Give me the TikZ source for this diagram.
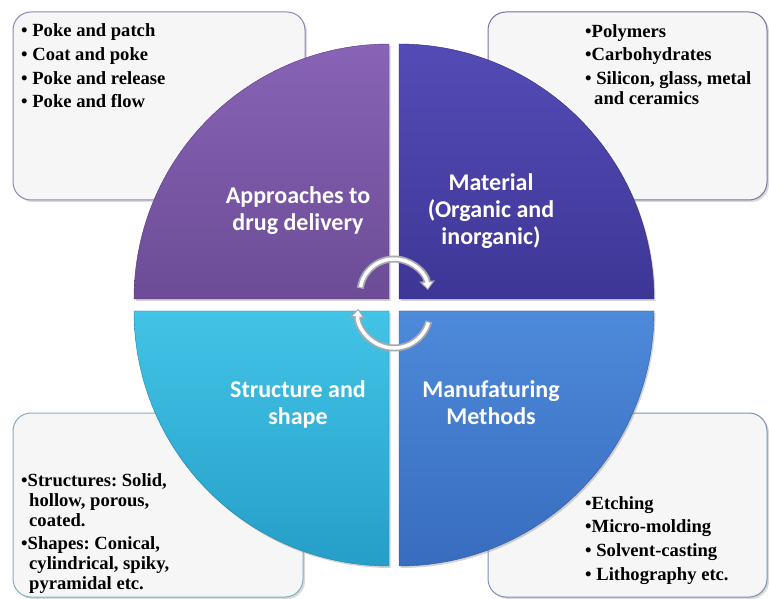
\documentclass[tikz,border=0pt]{standalone}
\usepackage{fontspec}
\setmainfont{Liberation Serif}
\newfontfamily\quadfont{Carlito}
\usetikzlibrary{arrows.meta,shadows}

\definecolor{purpTop}{RGB}{136,99,182}
\definecolor{purpBot}{RGB}{108,76,150}
\definecolor{purpDark}{RGB}{88,60,125}
\definecolor{indiTop}{RGB}{84,76,182}
\definecolor{indiBot}{RGB}{62,54,150}
\definecolor{indiDark}{RGB}{48,42,120}
\definecolor{cyanTop}{RGB}{66,196,230}
\definecolor{cyanBot}{RGB}{38,158,200}
\definecolor{cyanDark}{RGB}{30,130,170}
\definecolor{blueTop}{RGB}{78,138,218}
\definecolor{blueBot}{RGB}{56,108,190}
\definecolor{blueDark}{RGB}{44,88,160}
\definecolor{boxgray}{RGB}{246,246,246}
\definecolor{frameTL}{RGB}{150,130,185}
\definecolor{frameTR}{RGB}{120,115,160}
\definecolor{frameBL}{RGB}{125,175,195}
\definecolor{frameBR}{RGB}{120,145,185}
\definecolor{arrowgray}{RGB}{168,168,175}

\tikzset{
  infobox/.style={rounded corners=18pt, fill=boxgray, line width=1pt,
    drop shadow={opacity=0.3,shadow xshift=2pt,shadow yshift=-2pt}},
  boxtext/.style={font=\frenchspacing\bfseries\fontsize{18.6}{23.7}\selectfont, align=left,
    inner sep=0pt, anchor=north west},
  quadlabel/.style={font=\quadfont\bfseries\fontsize{24}{27}\selectfont,
    text=white, align=center, inner sep=0pt, anchor=north},
  cyclearrow/.style={line width=7pt, draw=arrowgray,
    -{Triangle[length=9pt,width=15pt]}},
  cycleinner/.style={line width=3.5pt, draw=white,
    -{Triangle[length=6pt,width=9pt]}, shorten >=1.5pt}
}

\begin{document}
\begin{tikzpicture}[x=1pt,y=1pt]
    \useasboundingbox (0,0) rectangle (769,598);
    % the four boxes behind the wheel
    \draw[infobox, draw=frameTL] (13,398) rectangle (305,586);
    \draw[infobox, draw=frameTR] (488,398) rectangle (767,586);
    \draw[infobox, draw=frameBL] (13,1) rectangle (303,185);
    \draw[infobox, draw=frameBR] (488,1) rectangle (767,185);
    % corners of the quarters
    \coordinate (TL) at (389,299);
    \coordinate (TR) at (399,299);
    \coordinate (BL) at (389,287);
    \coordinate (BR) at (399,287);
    % draw the quarters
    \foreach \p/\a/\c in {TL/90/purp,TR/0/indi,BL/180/cyan,BR/270/blue}
        \path[draw=\c Dark, top color=\c Top, bottom color=\c Bot,
            drop shadow={opacity=0.35,shadow xshift=1.5pt,shadow yshift=-2pt}]
            (\p) -- ++(\a:255) arc[start angle=\a, delta angle=90, radius=255] -- cycle;
    % the turning arrows in the middle
    \coordinate (topc) at (394,305);
    \coordinate (botc) at (394,286);
    \draw[cyclearrow] ([shift={(172:34)}]topc) arc[start angle=172, end angle=5, radius=34];
    \draw[cycleinner] ([shift={(170:34)}]topc) arc[start angle=170, end angle=5, radius=34];
    \draw[cyclearrow] ([shift={(-15:36)}]botc) arc[start angle=-15, end angle=-185, radius=36];
    \draw[cycleinner] ([shift={(-17:36)}]botc) arc[start angle=-17, end angle=-185, radius=36];
    % labels of the quarters
    \node[quadlabel] (approach) at (298,411.5) {Approaches to\\drug delivery};
    \node[quadlabel] (material) at (491,424.5) {Material\\(Organic and\\inorganic)};
    \node[quadlabel] (structure) at (298,217.5) {Structure and\\shape};
    \node[quadlabel] (methods) at (491,217.5) {Manufaturing\\Methods};
    % lists in the boxes
    \node[boxtext] (approachlist) at (21,574.3)
        {• Poke and patch\\• Coat and poke\\• Poke and release\\• Poke and flow};
    \node[boxtext] (materiallist) at (585,574)
        {•Polymers\\•Carbohydrates\\• Silicon, glass, metal\\[-3.7pt]\hspace*{9pt}and ceramics};
    \node[boxtext] (structurelist) at (21,125)
        {•Structures: Solid,\\[-3.7pt]\hspace*{8pt}hollow, porous,\\[-3.7pt]\hspace*{8pt}coated.\\
         •Shapes: Conical,\\[-3.7pt]\hspace*{8pt}cylindrical, spiky,\\[-3.7pt]\hspace*{8pt}pyramidal etc.};
    \node[boxtext] (methodlist) at (585,102)
        {•Etching\\•Micro-molding\\• Solvent-casting\\• Lithography etc.};
\end{tikzpicture}
\end{document}
